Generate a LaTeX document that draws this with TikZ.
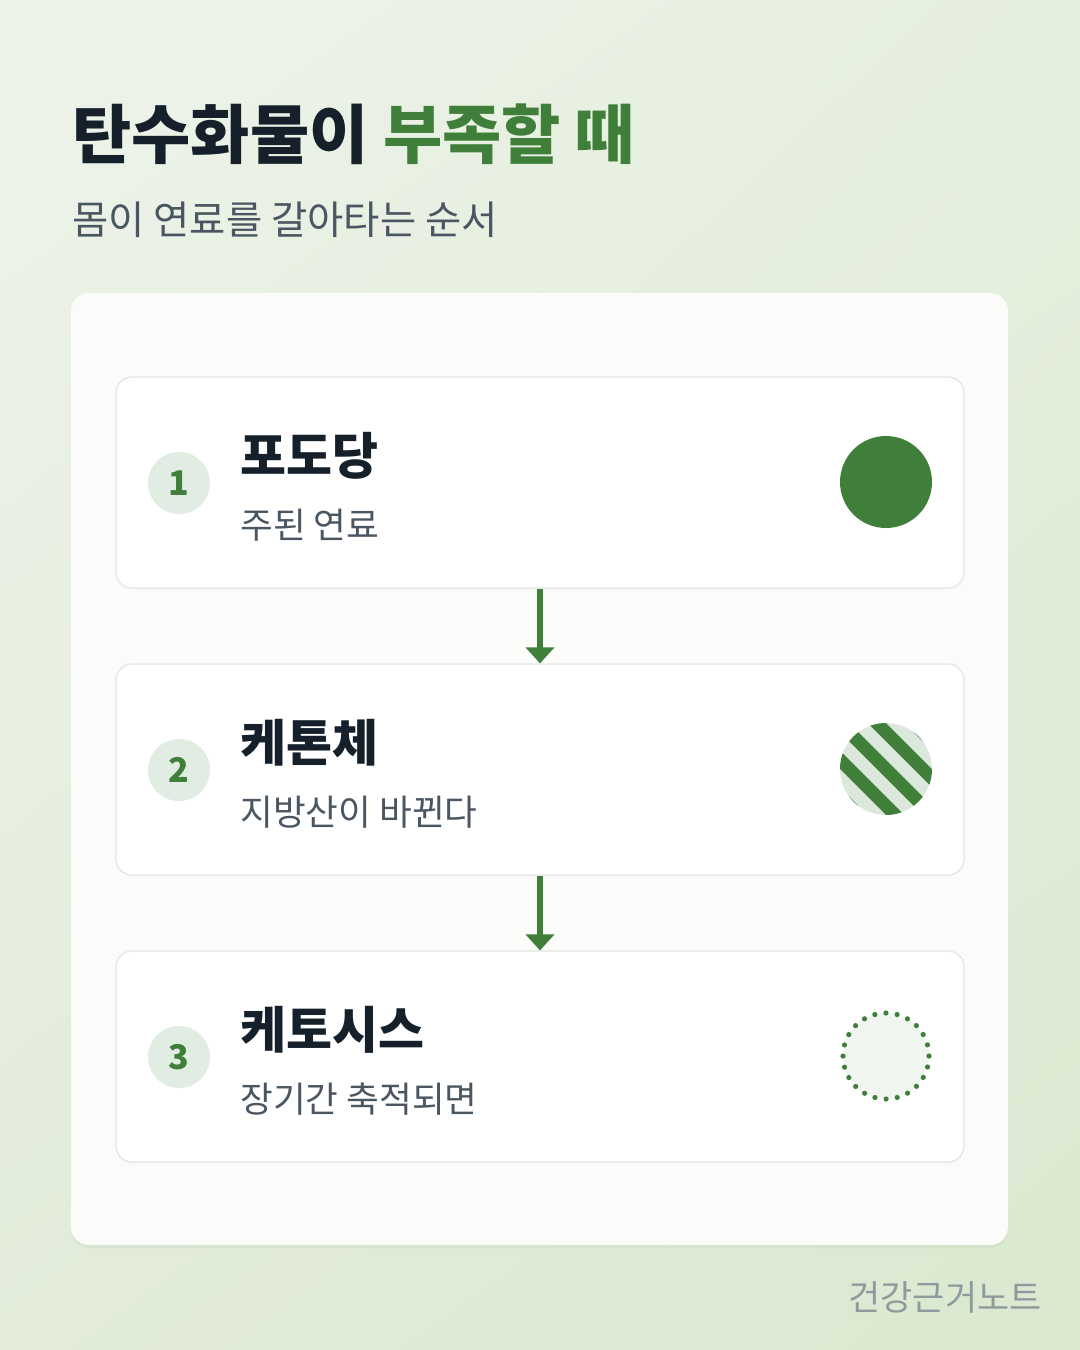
\documentclass[tikz,border=0pt]{standalone}
\usepackage{fontspec}
\setmainfont{Noto Sans CJK KR}
\usetikzlibrary{arrows.meta,shadows,shadings,calc}
\definecolor{leaf}{HTML}{3F7F3A}
\definecolor{ink}{HTML}{15202B}
\definecolor{slate}{HTML}{4A5662}
\definecolor{mist}{HTML}{E1ECE2}
\definecolor{pale}{HTML}{DCE8DC}
\definecolor{fog}{HTML}{F0F5F0}
\definecolor{edge}{HTML}{E2E6E2}
\definecolor{foot}{HTML}{8C9C9C}
\definecolor{bgtl}{HTML}{EEF3EA}
\definecolor{bgtr}{HTML}{E5EFDE}
\definecolor{bgbl}{HTML}{E2ECD9}
\definecolor{bgbr}{HTML}{DBE8CF}
\definecolor{sheet}{HTML}{FBFCFA}
\begin{document}
\begin{tikzpicture}[x=0.5pt,y=-0.5pt,
    panel/.style={fill=sheet, rounded corners=9pt, minimum width=468.5pt, minimum height=476pt,
      drop shadow={shadow xshift=0pt, shadow yshift=-1.5pt, opacity=.03, fill=black}},
    card/.style={draw=edge, line width=0.6pt, fill=white, rounded corners=8pt, minimum width=424pt, minimum height=105.5pt,
      drop shadow={shadow xshift=0pt, shadow yshift=-1pt, opacity=.02, fill=black}},
    badge/.style={circle, fill=mist, minimum size=31pt, inner sep=0pt, text=leaf, font=\fontsize{17}{17}\selectfont\bfseries},
    heading/.style={anchor=base west, inner sep=0pt, text=ink, font=\fontsize{25}{25}\selectfont\bfseries},
    note/.style={anchor=base west, inner sep=0pt, text=slate, font=\fontsize{17.8}{17.8}\selectfont},
    flow/.style={draw=leaf, line width=3pt, -{Triangle[width=14pt,length=8pt]}},
    stripe/.style={draw=leaf, line width=6.5pt}]
  % background
  \shade[upper left=bgtl, upper right=bgtr, lower left=bgbl, lower right=bgbr]
    (0,0) rectangle (1080,1350);
  \useasboundingbox (0,0) rectangle (1080,1350);
  % title
  \node[anchor=base west, inner sep=0pt, text=ink, font=\fontsize{32.2}{32.2}\selectfont\bfseries] (title) at (72,158)
    {탄수화물이 \textcolor{leaf}{부족할 때}};
  \node[anchor=base west, inner sep=0pt, text=slate, font=\fontsize{19.7}{19.7}\selectfont] (subtitle) at (72,234)
    {몸이 연료를 갈아타는 순서};
  % panel
  \node[panel] (frame) at (539.5,769) {};
  % cards
  \node[card] (card1) at (540,482.5) {};
  \node[card] (card2) at (540,769.5) {};
  \node[card] (card3) at (540,1056.5) {};
  % step 1
  \node[badge] (num1) at (179,483) {1};
  \node[heading] (name1) at (240,474) {포도당};
  \node[note] (info1) at (240,538) {주된 연료};
  \node[circle, fill=leaf, minimum size=46pt] (dot1) at (886,482) {};
  % step 2
  \node[badge] (num2) at (179,770) {2};
  \node[heading] (name2) at (240,761) {케톤체};
  \node[note] (info2) at (240,825) {지방산이 바뀐다};
  \node[circle, fill=pale, minimum size=46pt] (dot2) at (886,769) {};
  \begin{scope}
    \clip (dot2) circle (23pt);
    \foreach \k in {-4,...,4}
      \draw[stripe] ($(dot2)+(\k*18.4,-\k*18.4)+(-70,-70)$) -- ++(140,140);
  \end{scope}
  % step 3
  \node[badge] (num3) at (179,1057) {3};
  \node[heading] (name3) at (240,1048) {케토시스};
  \node[note] (info3) at (240,1112) {장기간 축적되면};
  \node[circle, fill=fog, draw=leaf, line width=2.6pt, line cap=round, dash pattern=on 0pt off 5.63pt,
    minimum size=43pt] (dot3) at (886,1056) {};
  % arrows
  \draw[flow] (card1.south) -- (card2.north);
  \draw[flow] (card2.south) -- (card3.north);
  % footer
  \node[anchor=base east, inner sep=0pt, text=foot, font=\fontsize{17.5}{17.5}\selectfont] (brand) at (1042,1310) {건강근거노트};
\end{tikzpicture}
\end{document}
